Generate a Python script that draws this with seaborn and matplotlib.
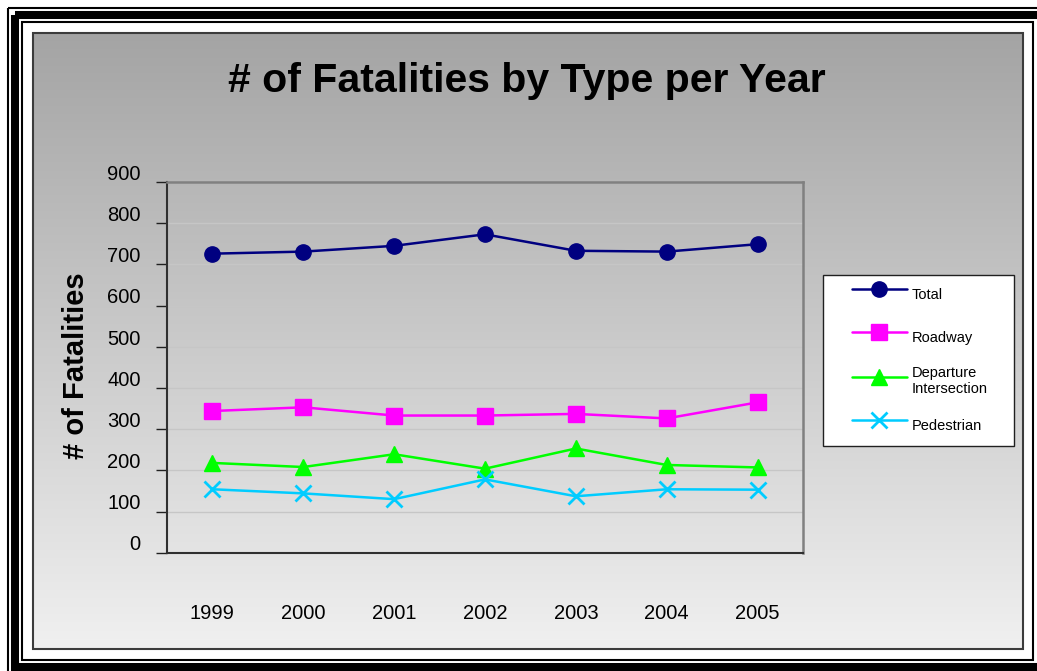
import numpy as np
import pandas as pd
import matplotlib
matplotlib.use("Agg")
import matplotlib.pyplot as plt
import matplotlib.transforms as mtransforms
from matplotlib.colors import LinearSegmentedColormap
from matplotlib.patches import Rectangle
import seaborn as sns

# data
years = ["1999", "2000", "2001", "2002", "2003", "2004", "2005"]
total = [726, 731, 745, 773, 733, 731, 749]
roadway = [344, 353, 333, 333, 337, 326, 365]
departure = [218, 208, 239, 204, 253, 213, 207]
pedestrian = [154, 144, 130, 178, 137, 154, 153]
series_names = ["Total", "Roadway", "Departure Intersection", "Pedestrian"]
legend_labels = ["Total", "Roadway", "Departure\nIntersection", "Pedestrian"]
y_ticks = [0, 100, 200, 300, 400, 500, 600, 700, 800, 900]

df = pd.DataFrame({
    "year": years * 4,
    "series": np.repeat(series_names, len(years)),
    "value": total + roadway + departure + pedestrian,
})

styles = {
    "Total": dict(color="#000080", marker="o", markersize=11, markeredgewidth=1),
    "Roadway": dict(color="#FF00FF", marker="s", markersize=11, markeredgewidth=1),
    "Departure Intersection": dict(color="#00FF00", marker="^", markersize=12, markeredgewidth=1),
    "Pedestrian": dict(color="#00CCFF", marker="x", markersize=11, markeredgewidth=2),
}

sns.set_style("white")
plt.rcParams["font.family"] = ["Liberation Sans", "DejaVu Sans"]
plt.rcParams["text.color"] = "black"
plt.rcParams["xtick.color"] = "black"
plt.rcParams["ytick.color"] = "black"

W, H = 1037, 671
fig = plt.figure(figsize=(W / 100, H / 100), dpi=100)
fig.patch.set_facecolor("white")

# background: gradient chart area + the triple black frame
bg = fig.add_axes([0, 0, 1, 1], zorder=0)
grad = LinearSegmentedColormap.from_list("grad", ["#a4a4a4", "#f0f0f0"])
bg.imshow(np.linspace(0, 1, 256).reshape(-1, 1), cmap=grad, aspect="auto",
          extent=(32.5, 1022.5, 648.5, 32.5), zorder=1)
bg.add_patch(Rectangle((32.5, 32.5), 990, 616, fill=False, ec="#3c3c3c", lw=1.5, zorder=2))
bg.add_patch(Rectangle((7.7, 7.7), 1039.6, 666.6, fill=False, ec="black", lw=1.5, zorder=2))
bg.add_patch(Rectangle((15, 15), 1025, 652, fill=False, ec="black", lw=5.8, zorder=2))
bg.add_patch(Rectangle((22, 22), 1011, 638, fill=False, ec="black", lw=1.5, zorder=2))
bg.add_patch(Rectangle((822.5, 275), 191.5, 171, fc="white", ec="#202020", lw=1, zorder=3))
bg.set_xlim(0, W)
bg.set_ylim(H, 0)
bg.axis("off")

ax = fig.add_axes([167 / W, 1 - 552.7 / H, (803 - 167) / W, (552.7 - 182) / H], zorder=1)
ax.set_facecolor("none")

for name, label in zip(series_names, legend_labels):
    st = styles[name]
    sns.lineplot(data=df[df["series"] == name], x="year", y="value", ax=ax,
                 color=st["color"], marker=st["marker"], markersize=st["markersize"],
                 markeredgecolor=st["color"], markeredgewidth=st["markeredgewidth"],
                 linewidth=1.8, label=label, legend=False)

ax.set_xlim(-0.5, 6.5)
ax.set_xticks(range(len(years)))
ax.set_xticklabels(years)
ax.set_xticks(np.arange(-0.5, len(years), 1), minor=True)
ax.tick_params(axis="x", which="major", length=0, pad=37, labelsize=14.5, labelcolor="black")
ax.tick_params(axis="x", which="minor", length=7, width=1, color="#202020", direction="out")
ax.set_ylim(0, 900)
ax.set_yticks(y_ticks)
ax.tick_params(axis="y", length=8, width=1, color="#202020", pad=11, labelsize=14.5,
               labelcolor="black", left=True)
offset = mtransforms.ScaledTranslation(0, 7 / 72, fig.dpi_scale_trans)
for lab in ax.get_yticklabels():
    lab.set_transform(lab.get_transform() + offset)
ax.set_xlabel("")
ax.set_ylabel("")

ax.yaxis.grid(True, color="#c6c6c6", lw=1)
ax.xaxis.grid(False)
ax.set_axisbelow(True)
for side in ["left", "bottom"]:
    ax.spines[side].set_color("#303030")
    ax.spines[side].set_linewidth(1.5)
for side in ["top", "right"]:
    ax.spines[side].set_color("#808080")
    ax.spines[side].set_linewidth(1.8)
    ax.spines[side].set_visible(True)

fig.text(527 / W, 1 - 92.3 / H, "# of Fatalities by Type per Year", ha="center",
         va="baseline", fontsize=29.5, fontweight="bold", color="black")
fig.text(76.5 / W, 1 - 366 / H, "# of Fatalities", rotation=90, ha="center",
         va="center", fontsize=21, fontweight="bold", color="black")

handles, labels = ax.get_legend_handles_labels()
fig.legend(handles, labels, loc="upper left", bbox_to_anchor=(852 / W, 1 - 278.8 / H),
           frameon=False, borderpad=0, borderaxespad=0, handlelength=3.77,
           handleheight=2.9, labelspacing=0.86, handletextpad=0.35,
           prop={"size": 10.5})

fig.savefig("out.png", dpi=100)
